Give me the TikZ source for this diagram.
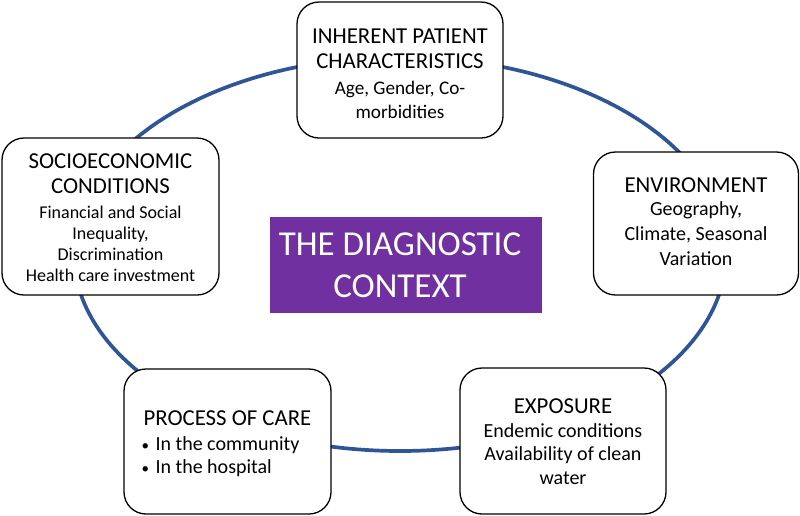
\documentclass[tikz,border=0pt]{standalone}
\usepackage{fontspec}
\setmainfont{Carlito}
\definecolor{ringblue}{RGB}{47,85,151}
\definecolor{ctxpurple}{RGB}{112,48,160}
\newcommand{\ttlfont}{\fontsize{22.8}{25}\selectfont}
\newcommand{\smbullet}{\makebox[14pt][l]{\fontsize{15}{15}\selectfont\textbullet}}
\begin{document}
\begin{tikzpicture}[x=1pt,y=-1pt,
  card/.style={draw=black, line width=1.3pt, rounded corners=22pt, fill=white, inner sep=0pt},
  words/.style={anchor=base, inner sep=0pt},
  ctx/.style={fill=ctxpurple, inner sep=0pt}]
\useasboundingbox (0,0) rectangle (800,515);
\draw[ringblue, line width=3.7pt] (400,254) ellipse [x radius=326, y radius=197];
% boxes
\node[card, minimum width=206pt, minimum height=136pt] (inh) at (400,70) {};
\node[card, minimum width=217pt, minimum height=157pt] (soc) at (110.5,216.5) {};
\node[card, minimum width=205pt, minimum height=143pt] (env) at (696,223.5) {};
\node[card, minimum width=207pt, minimum height=145pt] (care) at (227.5,441.5) {};
\node[card, minimum width=206pt, minimum height=146pt] (exp) at (563,441) {};
\node[ctx, minimum width=272pt, minimum height=96pt] (diag) at (406,265) {};
% texts
\node[words] (inh-t) at (400,43) {\begin{minipage}[t]{204pt}\centering
  \ttlfont INHERENT PATIENT\\CHARACTERISTICS\par\vspace{2pt}
  \fontsize{19.2}{24}\selectfont Age, Gender, Co-\\morbidities\par\end{minipage}};
\node[words] (soc-t) at (110.5,168) {\begin{minipage}[t]{215pt}\centering
  \ttlfont SOCIOECONOMIC\\CONDITIONS\par\vspace{3.7pt}
  \fontsize{18}{21.3}\selectfont Financial and Social\\Inequality,\\Discrimination\\Health care investment\par\end{minipage}};
\node[words] (env-t) at (696,192) {\begin{minipage}[t]{203pt}\centering
  \ttlfont ENVIRONMENT\par\vspace{-2pt}
  \fontsize{20}{25}\selectfont Geography,\\Climate, Seasonal\\Variation\par\end{minipage}};
\node[words] (care-t) at (227.5,425) {\begin{minipage}[t]{205pt}\centering
  \ttlfont PROCESS OF CARE\par\vspace{1.5pt}
  \fontsize{20}{23.5}\selectfont
  \makebox[172pt][l]{\smbullet In the community}\\
  \makebox[172pt][l]{\smbullet In the hospital}\par\end{minipage}};
\node[words] (exp-t) at (563,413) {\begin{minipage}[t]{204pt}\centering
  \ttlfont EXPOSURE\par\vspace{0.5pt}
  \fontsize{20}{23.5}\selectfont Endemic conditions\\Availability of clean\\water\par\end{minipage}};
\node[words, text=white] (diag-t) at (400,255) {\begin{minipage}[t]{270pt}\centering
  \fontsize{35}{42}\selectfont THE DIAGNOSTIC\\CONTEXT\par\end{minipage}};
\end{tikzpicture}
\end{document}
